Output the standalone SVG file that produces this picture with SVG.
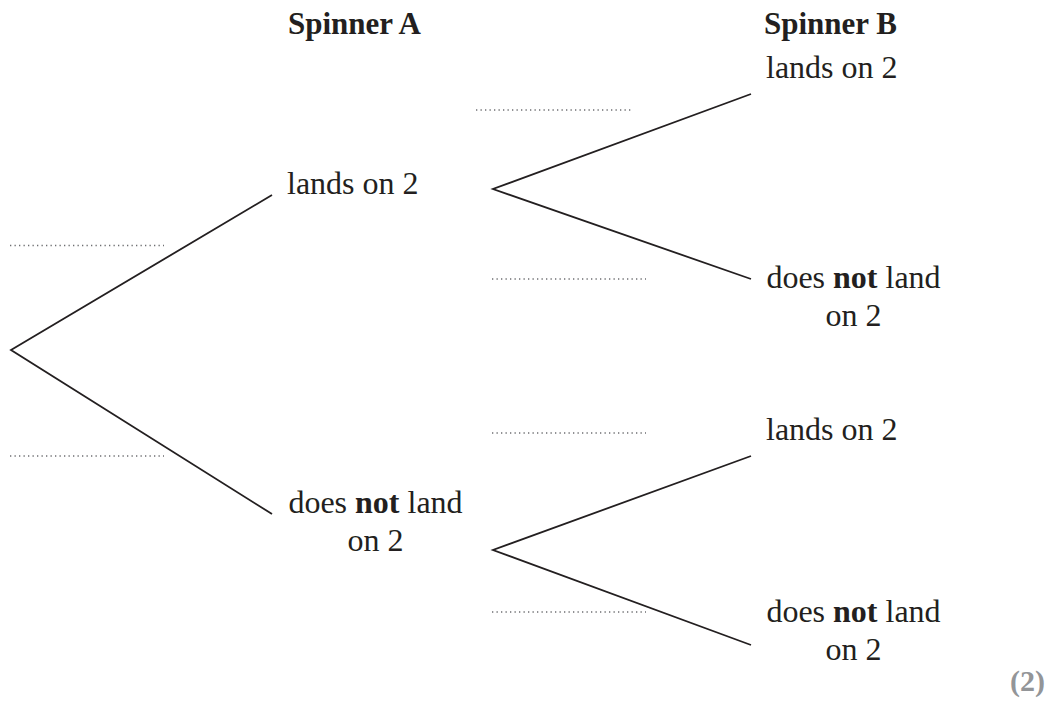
<svg xmlns="http://www.w3.org/2000/svg" width="1048" height="706" viewBox="0 0 1048 706">
<style>
.t{font-family:"Liberation Serif","Times New Roman",serif;font-size:32px;fill:#231f20}
.h{font-weight:bold;font-size:31px}
.b{font-weight:bold}
.m{font-family:"Liberation Serif","Times New Roman",serif;font-size:30px;font-weight:bold;fill:#939598}
.ln{stroke:#231f20;stroke-width:1.8;fill:none;stroke-linejoin:miter}
.dot{stroke:#6d6e71;stroke-width:1.3;stroke-dasharray:1.3 3.2;fill:none}
</style>
<rect width="1048" height="706" fill="#fff"/>
<g id="headers">
<text class="t h" x="288" y="34">Spinner A</text>
<text class="t h" x="764" y="34">Spinner B</text>
</g>
<g id="connectors">
<polyline class="ln" points="272,195 11,350 272,514"/>
<polyline class="ln" points="751,94 493,189 751,279"/>
<polyline class="ln" points="751,456 493,550 751,645"/>
</g>
<g id="answer-lines">
<line class="dot" x1="10" y1="245.5" x2="164" y2="245.5"/>
<line class="dot" x1="10" y1="456" x2="164" y2="456"/>
<line class="dot" x1="476" y1="110" x2="631" y2="110"/>
<line class="dot" x1="492" y1="279" x2="646" y2="279"/>
<line class="dot" x1="492" y1="433" x2="646" y2="433"/>
<line class="dot" x1="492" y1="612" x2="646" y2="612"/>
</g>
<g id="nodeA1"><text class="t" x="287" y="194">lands on 2</text></g>
<g id="nodeA2"><text class="t" x="375.5" y="513" text-anchor="middle">does <tspan class="b">not</tspan> land</text><text class="t" x="375.5" y="551" text-anchor="middle">on 2</text></g>
<g id="nodeB1"><text class="t" x="766" y="78">lands on 2</text></g>
<g id="nodeB2"><text class="t" x="853.5" y="288" text-anchor="middle">does <tspan class="b">not</tspan> land</text><text class="t" x="853.5" y="326" text-anchor="middle">on 2</text></g>
<g id="nodeB3"><text class="t" x="766" y="440">lands on 2</text></g>
<g id="nodeB4"><text class="t" x="853.5" y="622" text-anchor="middle">does <tspan class="b">not</tspan> land</text><text class="t" x="853.5" y="660" text-anchor="middle">on 2</text></g>
<g id="marks"><text class="m" x="1045" y="691" text-anchor="end">(2)</text></g>
</svg>
